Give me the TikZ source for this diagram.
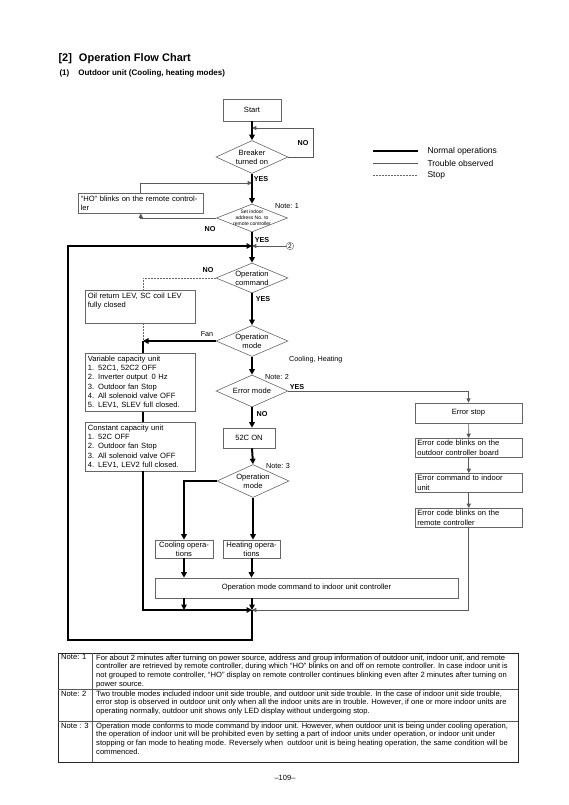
\documentclass[tikz,border=0pt]{standalone}
\usepackage{fontspec}
\setmainfont{Liberation Sans}
\usetikzlibrary{shapes.geometric,arrows.meta}

\newcommand{\boxfont}{\fontsize{7.6}{9.3}\selectfont}
\newcommand{\setfont}{\fontsize{5}{6}\selectfont}
\newcommand{\notefont}{\fontsize{7.6}{8.7}\selectfont}

\begin{document}
\begin{tikzpicture}[x=1pt,y=-1pt,
    normalop/.style={line width=2pt, >={Triangle[length=5.5pt,width=5.5pt]}},
    trouble/.style={line width=0.7pt, draw=black!65, >={Triangle[length=4.3pt,width=4pt]}},
    stopline/.style={line width=0.7pt, draw=black!60, dash pattern=on 1.5pt off 1.5pt},
    flowbox/.style={draw=black!60, line width=0.6pt, inner sep=2.5pt, font=\boxfont, align=center},
    lbox/.style={flowbox, align=left, anchor=north west},
    dia/.style={draw=black!60, line width=0.6pt, diamond, aspect=2.2, inner sep=0pt, minimum width=72pt, minimum height=32pt, font=\boxfont, align=center},
    lab/.style={font=\fontsize{7.2}{8}\selectfont, inner sep=1pt},
    yn/.style={font=\bfseries\fontsize{7.2}{8}\selectfont, inner sep=1pt}]
    \path[fill=white, use as bounding box] (0,0) rectangle (569,805);

    \node[anchor=west, font=\bfseries\fontsize{11}{13}\selectfont] (title) at (55,59) {[2]\hspace{7pt}Operation Flow Chart};
    \node[anchor=west, font=\bfseries\fontsize{8}{10}\selectfont] (subtitle) at (56,73) {(1)\hspace{9pt}Outdoor unit (Cooling, heating modes)};

    \node[flowbox, minimum width=58pt, minimum height=22pt] (start) at (252,110) {Start};
    \node[dia, minimum height=33pt] (brk) at (252,157) {Breaker\\turned on};
    \node[dia, minimum width=71pt, minimum height=28pt, inner sep=-3pt, font=\setfont] (set) at (252,218) {Set indoor\\address No. to\\remote controller};
    \node[lbox, text width=120pt] (ho) at (78,193) {“HO” blinks on the remote control-\\ler};
    \node[draw=black!60, circle, inner sep=0.6pt, font=\fontsize{6.5}{7}\selectfont] (c2) at (290,246) {2};
    \node[dia, minimum height=30pt] (opcmd) at (252,278) {Operation\\command};
    \node[lbox, text width=105pt, text depth=22pt] (oil) at (85,290) {Oil return LEV, SC coil LEV\\fully closed};
    \node[dia, minimum height=31pt] (opmode) at (252,341) {Operation\\mode};
    \node[lbox, text width=105pt] (var) at (85,353) {Variable capacity unit\\1.\hspace{4pt}52C1, 52C2 OFF\\2.\hspace{4pt}Inverter output\hspace{4pt}0 Hz\\3.\hspace{4pt}Outdoor fan Stop\\4.\hspace{4pt}All solenoid valve OFF\\5.\hspace{4pt}LEV1, SLEV full closed.};
    \node[lbox, text width=105pt] (const) at (85,422) {Constant capacity unit\\1.\hspace{4pt}52C OFF\\2.\hspace{4pt}Outdoor fan Stop\\3.\hspace{4pt}All solenoid valve OFF\\4.\hspace{4pt}LEV1, LEV2 full closed.};
    \node[dia] (err) at (252,391) {Error mode};
    \node[flowbox, minimum width=52pt, minimum height=20pt] (c52) at (249,438) {52C ON};
    \node[dia, minimum height=33pt] (mode2) at (253,481) {Operation\\mode};
    \node[flowbox, minimum width=58pt, minimum height=18pt, inner sep=1pt] (cool) at (184,549) {Cooling opera-\\tions};
    \node[flowbox, minimum width=57pt, minimum height=18pt, inner sep=1pt] (heat) at (251.5,549) {Heating opera-\\tions};
    \node[flowbox, minimum width=303pt, minimum height=20pt] (cmd) at (306.5,588) {Operation mode command to indoor unit controller};
    \node[flowbox, minimum width=107pt, minimum height=20pt] (estop) at (468.5,413) {Error stop};
    \node[lbox, text width=103pt, inner sep=2pt] (ecode) at (415,438) {Error code blinks on the\\outdoor controller board};
    \node[lbox, text width=103pt, inner sep=2pt] (ecmd) at (415,473) {Error command to indoor\\unit};
    \node[lbox, text width=103pt, inner sep=2pt] (eremote) at (415,508) {Error code blinks on the\\remote controller};

    \coordinate (j0) at (252,128);
    \coordinate (j1) at (252,183);
    \coordinate (j2) at (252,246);
    \coordinate (j3) at (143,341);
    \coordinate (j5) at (252,610);
    \coordinate (lp) at (68,640);

    \node[yn] at (303,143) {NO};
    \node[yn] at (261,179) {YES};
    \node[lab] at (287,206) {Note: 1};
    \node[yn] at (210,229) {NO};
    \node[yn] at (262,240) {YES};
    \node[yn] at (208,270) {NO};
    \node[yn] at (263,299) {YES};
    \node[lab] at (207,334) {Fan};
    \node[lab, anchor=west] at (288,360) {Cooling, Heating};
    \node[lab] at (277,377) {Note: 2};
    \node[yn] at (297,387) {YES};
    \node[yn] at (262,414) {NO};
    \node[lab] at (278,466) {Note: 3};

    \draw[normalop,->] (start) -- (brk);
    \draw[trouble,->] (brk.east) -- ++(25,0) |- (j0);
    \draw[normalop,->] (brk) -- (set);
    \draw[trouble,->] (set.west) -| (ho.south);
    \draw[trouble,->] (ho.north) |- (j1);
    \draw[normalop] (set.south) -- (j2);
    \draw[trouble,->] (c2.west) -- (c2.west -| j2);
    \draw[normalop,->] (j2) -- (opcmd.north);
    \draw[stopline] (opcmd.west) -| (j3 |- oil.north);
    \draw[stopline] (j3 |- oil.south) -- (j3);
    \draw[normalop,->] (opcmd) -- (opmode);
    \draw[normalop,->] (opmode.west) -- (j3);
    \draw[normalop] (j3) -- (j3 |- var.north);
    \draw[normalop] (j3 |- var.south) -- (j3 |- const.north);
    \draw[normalop,->] (j3 |- const.south) |- (j5);
    \draw[normalop,->] (opmode) -- (err);
    \draw[trouble,->] (err.east) -| (estop.north);
    \draw[trouble,->] (estop) -- (ecode);
    \draw[trouble,->] (ecode) -- (ecmd);
    \draw[trouble,->] (ecmd) -- (eremote);
    \draw[trouble,->] (eremote.south) |- (j5);
    \draw[normalop,->] (err.south) -- (err.south |- c52.north);
    \draw[normalop,->] (err.south |- c52.south) -- (mode2.north);
    \draw[normalop,->] (mode2.west) -| (cool.north);
    \draw[normalop,->] (mode2.south) -- (mode2.south |- heat.north);
    \draw[normalop,->] (cool.south) -- (cool.south |- cmd.north);
    \draw[normalop,->] (heat.south) -- (heat.south |- cmd.north);
    \draw[normalop,->] (cool.south |- cmd.south) -- (cool.south |- j5);
    \draw[normalop,->] (j5 |- cmd.south) -- (j5);
    \draw[normalop,->] (j5) |- (lp) |- (j2);

    \node[anchor=west, font=\fontsize{8.5}{10}\selectfont] (lg1) at (424,151) {Normal operations};
    \node[anchor=west, font=\fontsize{8.5}{10}\selectfont] (lg2) at (424,163) {Trouble observed};
    \node[anchor=west, font=\fontsize{8.5}{10}\selectfont] (lg3) at (424,175) {Stop};
    \draw[normalop] ([xshift=-51pt]lg1.west) -- ([xshift=-6pt]lg1.west);
    \draw[trouble] ([xshift=-51pt]lg2.west) -- ([xshift=-6pt]lg2.west);
    \draw[stopline] ([xshift=-51pt]lg3.west) -- ([xshift=-6pt]lg3.west);

    \draw[line width=0.9pt, black!85] (58,653) rectangle (518,762);
    \draw[trouble] (92,653) -- (92,762);
    \draw[trouble] (58,689) -- (518,689);
    \draw[trouble] (58,721) -- (518,721);
    \node[anchor=north west, font=\notefont, inner sep=1pt] (n1) at (60,653.5) {Note: 1};
    \node[anchor=north west, font=\notefont, inner sep=1pt] (n2) at (60,689.5) {Note: 2};
    \node[anchor=north west, font=\notefont, inner sep=1pt] (n3) at (60,721.5) {Note : 3};
    \node[anchor=north west, font=\notefont, inner sep=1pt, align=left] (t1) at (95,653.5) {For about 2 minutes after turning on power source, address and group information of outdoor unit, indoor unit, and remote\\controller are retrieved by remote controller, during which “HO” blinks on and off on remote controller. In case indoor unit is\\not grouped to remote controller, “HO” display on remote controller continues blinking even after 2 minutes after turning on\\power source.};
    \node[anchor=north west, font=\notefont, inner sep=1pt, align=left] (t2) at (95,689.5) {Two trouble modes included indoor unit side trouble, and outdoor unit side trouble. In the case of indoor unit side trouble,\\error stop is observed in outdoor unit only when all the indoor units are in trouble. However, if one or more indoor units are\\operating normally, outdoor unit shows only LED display without undergoing stop.};
    \node[anchor=north west, font=\notefont, inner sep=1pt, align=left] (t3) at (95,721.5) {Operation mode conforms to mode command by indoor unit. However, when outdoor unit is being under cooling operation,\\the operation of indoor unit will be prohibited even by setting a part of indoor units under operation, or indoor unit under\\stopping or fan mode to heating mode. Reversely when\ \ outdoor unit is being heating operation, the same condition will be\\commenced.};
    \node[font=\fontsize{7.5}{9}\selectfont] (page) at (285,778) {–109–};
\end{tikzpicture}
\end{document}
